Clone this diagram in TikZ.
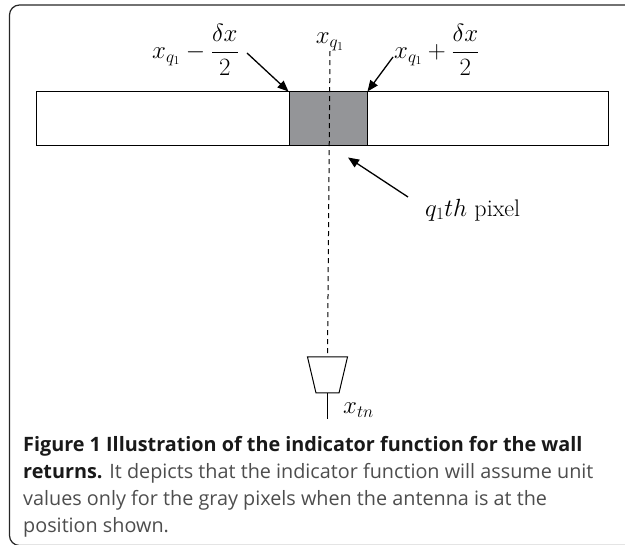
\documentclass[tikz,border=0pt]{standalone}
\usepackage{amsmath,amssymb}
\usepackage{fontspec}
\setsansfont{Open Sans}
\usepackage{tikz}
\usetikzlibrary{arrows.meta,positioning,calc}
\definecolor{pixgray}{RGB}{148,149,152}
\definecolor{capgray}{RGB}{77,77,77}

\begin{document}
\begin{tikzpicture}[x=1pt,y=-1pt,
  wall/.style={draw,line width=1pt,minimum width=572pt,minimum height=54pt,inner sep=0pt},
  pix/.style={draw,line width=1pt,fill=pixgray,minimum width=78pt,minimum height=54pt,inner sep=0pt},
  lbl/.style={inner sep=0pt,font=\fontsize{24}{28}\selectfont},
  arrow/.style={-{Triangle[length=11pt,width=9pt]},line width=1.3pt}
]
\useasboundingbox (0,0) rectangle (625,545);
\clip (0,0) rectangle (625,545);
\draw[line width=1.2pt,rounded corners=10pt,draw=black!85] (9.5,5) rectangle (640,545.5);

\node[wall] (wall) at (322,119) {};
\node[pix] (px) at (328,119) {};

\node[lbl] (xq) at (330,42) {$x_{q_1}$};
\node[lbl,anchor=east] (lo) at (239,50) {$x_{q_1}-\dfrac{\delta x}{2}$};
\node[lbl,anchor=west] (hi) at (394,50) {$x_{q_1}+\dfrac{\delta x}{2}$};
\node[lbl,anchor=west] (qth) at (425,210) {$q_1th$ pixel};

\coordinate (antn) at (327.5,357);
\coordinate (ants) at (327.5,393);
\coordinate (feed) at (327.5,419);
\draw[line width=1pt] ($(antn)+(-20,0)$) -- ($(antn)+(20,0)$) -- ($(ants)+(11.5,0)$)
  -- ($(ants)+(-11.5,0)$) -- cycle;
\node[lbl,anchor=west] (xtn) at (343,410) {$x_{tn}$};

\draw[line width=1pt,dash pattern=on 5pt off 4pt] (xq.south) -- (antn);
\draw[line width=1.6pt] (ants) -- (feed);

\draw[arrow] ($(lo.east)+(8,3)$) -- (px.north west);
\draw[arrow] ($(hi.west)+(-1,7)$) -- (px.north east);
\draw[arrow] ($(qth.west)+(-17,-13)$) -- ($(px.south)+(20,11)$);

\node[anchor=north west,align=left,inner sep=0pt,text=capgray,
      font=\sffamily\fontsize{19.8}{27}\selectfont] (cap) at (23,436.5)
  {\textcolor{black!90}{\bfseries Figure 1 Illustration of the indicator function for the wall}\\
   \textcolor{black!90}{\bfseries returns.} It depicts that the indicator function will assume unit\\
   values only for the gray pixels when the antenna is at the\\
   position shown.};
\end{tikzpicture}
\end{document}
